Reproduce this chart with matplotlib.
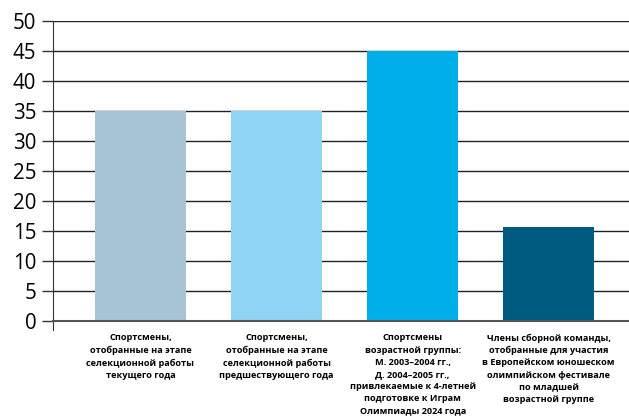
import matplotlib.pyplot as plt

# Bar values and category captions
categories = [
    "Спортсмены,\nотобранные на этапе\nселекционной работы\nтекущего года",
    "Спортсмены,\nотобранные на этапе\nселекционной работы\nпредшествующего года",
    "Спортсмены\nвозрастной группы:\nМ. 2003–2004 гг.,\nД. 2004–2005 гг.,\nпривлекаемые к 4-летней\nподготовке к Играм\nОлимпиады 2024 года",
    "Члены сборной команды,\nотобранные для участия\nв Европейском юношеском\nолимпийском фестивале\nпо младшей\nвозрастной группе",
]
values = [35, 35, 45, 15.7]
colors = ["#a6c4d6", "#8fd4f2", "#00aeea", "#005b81"]
y_ticks = list(range(0, 51, 5))

plt.rcParams['font.family'] = ['Open Sans', 'DejaVu Sans']

fig = plt.figure(figsize=(6.29, 4.2), dpi=100)
ax = fig.add_axes([53 / 629, 99 / 420, 576 / 629, 300 / 420])

x = range(len(values))
ax.bar(x, values, width=0.67, color=colors, zorder=2)

ax.set_ylim(0, 50)
ax.set_xlim(-0.643, 3.59)
ax.set_yticks(y_ticks)
ax.tick_params(axis='y', labelsize=14.8, length=8, width=1, color='#333333', pad=4)
ax.yaxis.grid(True, color='#222222', linewidth=1, zorder=0)
ax.set_axisbelow(True)

ax.set_xticks(list(x))
ax.set_xticklabels(categories, fontsize=6.6, fontweight='bold', linespacing=1.45)
ax.tick_params(axis='x', length=0, pad=9)

for side in ['top', 'right']:
    ax.spines[side].set_visible(False)
# the vertical axis runs a little below zero
ax.spines['left'].set_bounds(-1.5, 50)
ax.spines['left'].set_color('#333333')
ax.spines['bottom'].set_color('#555555')
ax.spines['bottom'].set_linewidth(1.5)

fig.savefig('out.png', dpi=100)
